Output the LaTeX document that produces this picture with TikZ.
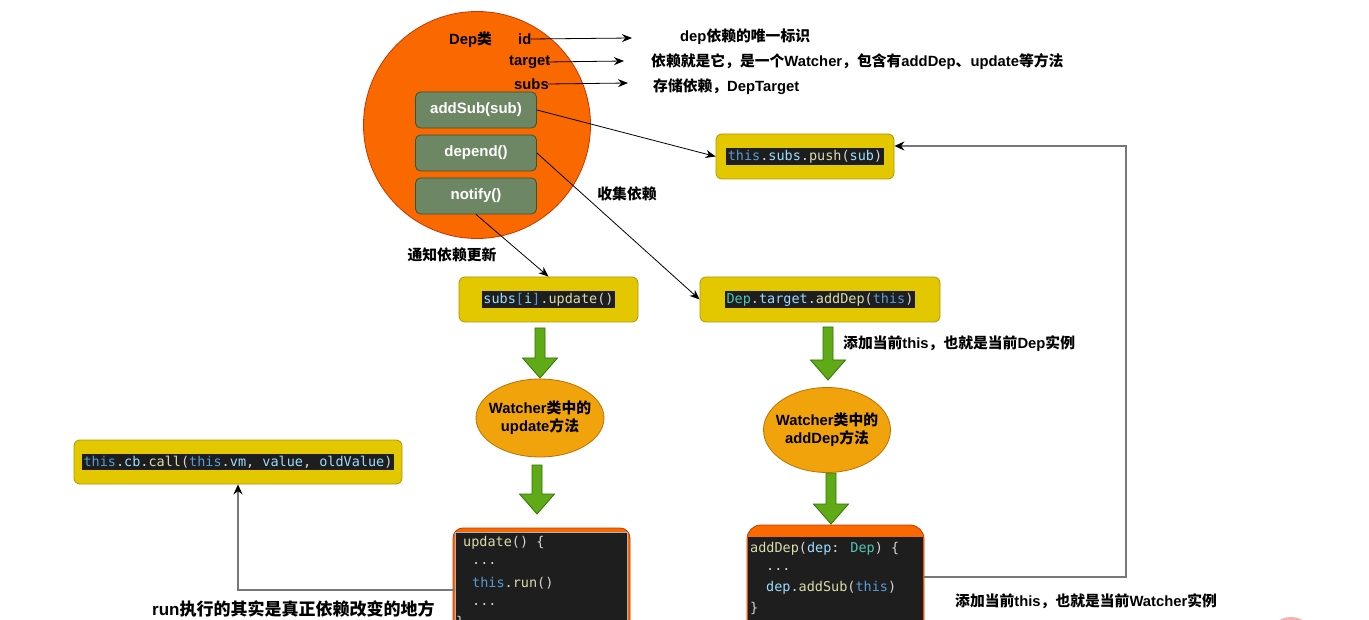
\documentclass[tikz,border=0pt]{standalone}
\usepackage{fontspec}
\setmainfont{Liberation Sans}
\newfontfamily\cjk{Noto Sans CJK SC}
\newfontfamily\codefont{DejaVu Sans Mono}
\usetikzlibrary{arrows.meta,shapes.geometric}
\newcommand\zh[1]{{\cjk #1}}
\definecolor{deporange}{HTML}{FA6800}
\definecolor{depborder}{HTML}{C73500}
\definecolor{mgreen}{HTML}{6D8764}
\definecolor{mgreenb}{HTML}{3A5431}
\definecolor{yel}{HTML}{E3C800}
\definecolor{yelb}{HTML}{B09500}
\definecolor{ell}{HTML}{F0A30A}
\definecolor{ellb}{HTML}{BD7000}
\definecolor{garrow}{HTML}{60A917}
\definecolor{garrowb}{HTML}{2D7600}
\definecolor{codebg}{HTML}{1E1E1E}
\definecolor{ckw}{HTML}{569CD6}
\definecolor{cvar}{HTML}{9CDCFE}
\definecolor{cfn}{HTML}{DCDCAA}
\definecolor{ccls}{HTML}{4EC9B0}
\definecolor{cpun}{HTML}{D4D4D4}
\definecolor{pinkc}{HTML}{F8AFAF}
\definecolor{lgray}{HTML}{777777}
\begin{document}
\begin{tikzpicture}[x=1pt,y=-1pt,
  method/.style={draw=mgreenb, fill=mgreen, rounded corners=5pt, minimum width=121pt, minimum height=36pt, text=white, font=\bfseries\fontsize{15}{17}\selectfont, line width=0.8pt},
  ybox/.style={draw=yelb, fill=yel, rounded corners=6pt, line width=0.8pt},
  code/.style={fill=codebg, inner sep=1.5pt, font=\codefont\fontsize{13.5}{16}\selectfont, text=cpun},
  cline/.style={anchor=west, inner sep=0pt, font=\codefont\fontsize{13.5}{16}\selectfont, text=cpun},
  lbl/.style={font=\bfseries\fontsize{14.8}{17}\selectfont, inner sep=0pt},
  ellnode/.style={draw=ellb, fill=ell, ellipse, line width=0.8pt, inner sep=0pt},
  elltext/.style={align=center, font=\bfseries\fontsize{14.8}{18}\selectfont, inner sep=0pt},
  arr/.style={-{Stealth[length=10pt,width=8pt]}, line width=0.8pt},
  garr/.style={draw=lgray, line width=1.3pt, -{Stealth[length=10pt,width=9pt,color=black]}},
  gdown/.pic={\draw[fill=garrow, draw=garrowb, line width=0.8pt] (-5,0) -- (5,0) -- (5,#1-20) -- (17.5,#1-20) -- (0,#1) -- (-17.5,#1-20) -- (-5,#1-20) -- cycle;}
]
\useasboundingbox (0,0) rectangle (1369,620);
\clip (0,0) rectangle (1369,620);

% big Dep circle
\node[circle, draw=depborder, fill=deporange, minimum size=227pt, line width=0.8pt] (dep) at (477,125) {};
\node[lbl, anchor=west] (deplbl) at (449,40) {Dep\zh{类}};
\node[lbl, anchor=west] (tid) at (518,39) {id};
\node[lbl, anchor=west] (ttarget) at (509,62) {target};
\node[lbl, anchor=west] (tsubs) at (514,84) {subs};
\coordinate (eid) at (632,38);
\coordinate (etarget) at (624,61);
\coordinate (esubs) at (628,83);
\draw[arr] ([xshift=-1pt]tid.east) -- (eid);
\draw[arr] ([xshift=-4pt]ttarget.east) -- (etarget);
\draw[arr] ([xshift=-1pt]tsubs.east) -- (esubs);
\node[lbl, anchor=west] (did) at (680,37) {dep\zh{依赖的唯一标识}};
\node[lbl, anchor=west] (dtarget) at (651,62) {\zh{依赖就是它，是一个}Watcher\zh{，包含有}addDep\zh{、}update\zh{等方法}};
\node[lbl, anchor=west] (dsubs) at (653,87) {\zh{存储依赖，}DepTarget};

\node[method] (addsub) at (476,110) {addSub(sub)};
\node[method] (depend) at (476,153) {depend()};
\node[method] (notify) at (476,196) {notify()};

% yellow boxes
\node[ybox, minimum width=178pt, minimum height=45pt] (push) at (805,156.5) {};
\node[code] at (push) {\textcolor{ckw}{this}.\textcolor{cvar}{subs}.\textcolor{cfn}{push}(\textcolor{cvar}{sub})};
\node[ybox, minimum width=179pt, minimum height=45pt] (subs) at (548.5,299.5) {};
\node[code] at (subs) {\textcolor{cvar}{subs}\textcolor{ckw}{[}\textcolor{cvar}{i}\textcolor{ckw}{]}.\textcolor{cfn}{update}()};
\node[ybox, minimum width=240pt, minimum height=45pt] (dt) at (820,299.5) {};
\node[code] at (dt) {\textcolor{ccls}{Dep}.\textcolor{cvar}{target}.\textcolor{cfn}{addDep}(\textcolor{ckw}{this})};
\node[ybox, minimum width=328pt, minimum height=44pt] (cb) at (238,462) {};
\node[code] at (cb) {\textcolor{ckw}{this}.\textcolor{cvar}{cb}.\textcolor{cfn}{call}(\textcolor{ckw}{this}.\textcolor{cvar}{vm}, \textcolor{cvar}{value}, \textcolor{cvar}{oldValue})};

% arrows from methods
\draw[arr] (addsub.east) -- (push.west);
\draw[arr] (depend.east) -- (dt.west);
\draw[arr] (notify.south) -- (subs.north);
\node[lbl] (lcollect) at (627,194) {\zh{收集依赖}};
\node[lbl] (lnotify) at (452,255) {\zh{通知依赖更新}};
\node[lbl, anchor=west] (ladddep) at (843,344) {\zh{添加当前}this\zh{，也就是当前}Dep\zh{实例}};

% green block arrows
\pic at (540,328) {gdown=50};
\pic at (828,327) {gdown=53};
\pic at (537,465) {gdown=49};
\pic at (831,473) {gdown=51};

% ellipses
\node[ellnode, minimum width=128pt, minimum height=78pt] (e1) at (540,418) {};
\node[elltext] (e1t) at (e1) {Watcher\zh{类中的}\\update\zh{方法}};
\node[ellnode, minimum width=127pt, minimum height=85pt] (e2) at (827,430) {};
\node[elltext] (e2t) at (e2) {Watcher\zh{类中的}\\addDep\zh{方法}};

% bottom code boxes
\draw[fill=deporange, draw=depborder, rounded corners=10pt, line width=0.8pt] (453,528) rectangle (630,660);
\node[fill=codebg, draw=gray!60, line width=0.5pt, minimum width=172pt, minimum height=116pt, anchor=north west, inner sep=0pt] (upd) at (455,532) {};
\node[cline] (u1) at (463,543) {\textcolor{cfn}{update}() \{};
\node[cline] (u2) at (472,563) {...};
\node[cline] (u3) at (472,583) {\textcolor{ckw}{this}.\textcolor{cfn}{run}()};
\node[cline] (u4) at (472,604) {...};
\node[cline] (u5) at (456,622) {\}};

\draw[fill=deporange, draw=depborder, rounded corners=14pt, line width=0.8pt] (747,525) rectangle (924,660);
\node[fill=codebg, minimum width=175pt, minimum height=120pt, anchor=north west, inner sep=0pt] (rdep) at (748,537) {};
\node[cline] (r1) at (750,549) {\textcolor{cfn}{addDep}(\textcolor{cvar}{dep}: \textcolor{ccls}{Dep}) \{};
\node[cline] (r2) at (766,569) {...};
\node[cline] (r3) at (766,588) {\textcolor{cvar}{dep}.\textcolor{cfn}{addSub}(\textcolor{ckw}{this})};
\node[cline] (r4) at (750,608) {\}};

% gray connectors
\coordinate (lc) at (0,590);
\draw[garr] (upd.west |- lc) -| (cb.south);
\coordinate (rc) at (0,577);
\coordinate (rcorner) at (1126,400);
\draw[garr] ([xshift=1pt]rdep.east |- rc) -| (rcorner) |- ([yshift=10.5pt]push.east);

\node[font=\bfseries\fontsize{17}{20}\selectfont, inner sep=0pt, anchor=west] (lrun) at (152,609) {run\zh{执行的其实是真正依赖改变的地方}};
\node[lbl, anchor=west] (lwatch) at (955,601) {\zh{添加当前}this\zh{，也就是当前}Watcher\zh{实例}};

\fill[pinkc] (1291,641) circle (24);
\end{tikzpicture}
\end{document}
